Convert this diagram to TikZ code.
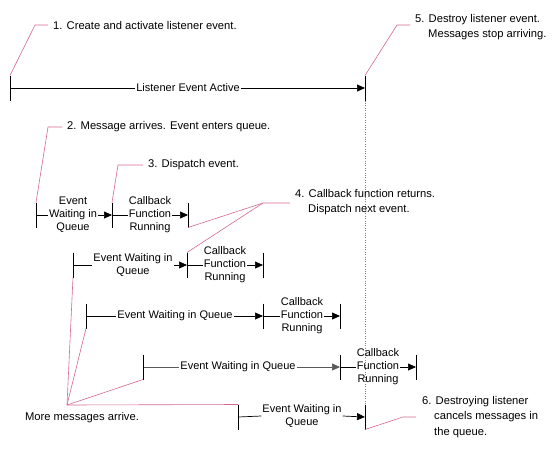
\documentclass[tikz,border=0pt]{standalone}
\usepackage{xcolor}
\usepackage{fontspec}
\setmainfont{Liberation Sans}
\usepackage{tikz}
\usetikzlibrary{arrows.meta, positioning, calc}

\definecolor{calloutpink}{RGB}{214,104,142}
\tikzset{
    lbl/.style={font=\fontsize{11}{13}\selectfont, inner sep=1pt, align=center},
    note/.style={font=\fontsize{11.2}{15.5}\selectfont, inner sep=0pt, align=left},
    tickln/.style={draw, line width=0.9pt},
    flow/.style={-{Triangle[length=8pt,width=7pt]}, line width=0.7pt},
    callout/.style={draw=calloutpink, line width=0.6pt},
}
\newcommand{\tickmark}[1]{\draw[tickln] ([yshift=12.5pt]#1) -- ([yshift=-12.5pt]#1);}

\begin{document}
\begin{tikzpicture}[x=1pt, y=-1pt]
    \useasboundingbox (0,0) rectangle (557,451);

    % listener event
    \coordinate (la) at (10,88); \coordinate (lb) at (365,88);
    \tickmark{la} \tickmark{lb}
    \node[lbl] (lea) at (188,88) {Listener Event Active};
    \draw[line width=0.7pt] (la) -- (lea.west);
    \draw[flow] (lea.east) -- (lb);
    \coordinate (t52) at (365,417);
    \draw[dotted, gray] ([yshift=-12.5pt]lb) -- ([yshift=12.5pt]t52);

    % row 1
    \coordinate (t11) at (36,215); \coordinate (t12) at (112,215); \coordinate (t13) at (188,215);
    \node[lbl] (ew1) at (73,215) {Event\\Waiting in\\Queue};
    \node[lbl] (cb1) at (150,215) {Callback\\Function\\Running};
    \draw[line width=0.7pt] (t11) -- (ew1.west); \draw[flow] (ew1.east) -- (t12);
    \draw[line width=0.7pt] (t12) -- (cb1.west); \draw[flow] (cb1.east) -- (t13);
    \tickmark{t11} \tickmark{t12} \tickmark{t13}

    % row 2
    \coordinate (t21) at (73,265); \coordinate (t22) at (187,265); \coordinate (t23) at (263,265);
    \node[lbl] (ew2) at (133,265) {Event Waiting in\\Queue};
    \node[lbl] (cb2) at (225,265) {Callback\\Function\\Running};
    \draw[line width=0.7pt] (t21) -- (ew2.west); \draw[flow] (ew2.east) -- (t22);
    \draw[line width=0.7pt] (t22) -- (cb2.west); \draw[flow] (cb2.east) -- (t23);
    \tickmark{t21} \tickmark{t22} \tickmark{t23}

    % row 3
    \coordinate (t31) at (86,316); \coordinate (t32) at (263,316); \coordinate (t33) at (340,316);
    \node[lbl] (ew3) at (175,316) {Event Waiting in Queue};
    \node[lbl] (cb3) at (302,316) {Callback\\Function\\Running};
    \draw[line width=0.7pt] (t31) -- (ew3.west); \draw[flow] (ew3.east) -- (t32);
    \draw[line width=0.7pt] (t32) -- (cb3.west); \draw[flow] (cb3.east) -- (t33);
    \tickmark{t31} \tickmark{t32} \tickmark{t33}

    % row 4
    \coordinate (t41) at (143,367); \coordinate (t42) at (340,367); \coordinate (t43) at (416,367);
    \node[lbl] (ew4) at (238,367) {Event Waiting in Queue};
    \node[lbl] (cb4) at (378,367) {Callback\\Function\\Running};
    \draw[line width=0.7pt, black!65] (t41) -- (ew4.west); \draw[flow, black!65] (ew4.east) -- (t42);
    \draw[line width=0.7pt] (t42) -- (cb4.west); \draw[flow] (cb4.east) -- (t43);
    \tickmark{t41} \tickmark{t42} \tickmark{t43}

    % row 5
    \coordinate (t51) at (238,417);
    \node[lbl] (ew5) at (302,416) {Event Waiting in\\Queue};
    \draw[line width=0.7pt] (t51) -- (ew5.west); \draw[flow] (ew5.east) -- (t52);
    \tickmark{t51} \tickmark{t52}

    % callouts
    \node[note, anchor=west] (n1) at (53,25) {1. Create and activate listener event.};
    \draw[callout] ([yshift=12.5pt]la) -- (35,25) -- ([xshift=-5pt]n1.west);
    \node[note, anchor=north west] (n5) at (415,14) {5. Destroy listener event.\\\hspace*{13pt}Messages stop arriving.};
    \draw[callout] ([yshift=12.5pt]lb) -- (397,25) -- (410,25);
    \node[note, anchor=west] (n2) at (67,127) {2. Message arrives. Event enters queue.};
    \draw[callout] ([yshift=12.5pt]t11) -- (48,127) -- ([xshift=-5pt]n2.west);
    \node[note, anchor=west] (n3) at (148,165) {3. Dispatch event.};
    \draw[callout] ([yshift=12.5pt]t12) -- (118,165) -- ([xshift=-5pt]n3.west);
    \node[note, anchor=north west] (n4) at (295,189) {4. Callback function returns.\\\hspace*{13pt}Dispatch next event.};
    \coordinate (j4) at (263,203);
    \draw[callout] ([yshift=-12.5pt]t13) -- (j4) -- (290,203);
    \draw[callout] ([yshift=12.5pt]t22) -- (j4);
    \node[note, anchor=west] (n6) at (422,417) {6. Destroying listener\\\hspace*{12pt}cancels messages in\\\hspace*{12pt}the queue.};
    \draw[callout] ([yshift=-12.5pt]t52) -- (403,417) -- ([xshift=-6pt]n6.west);
    \coordinate (jm) at (67,405);
    \node[note] (nm) at (82,418) {More messages arrive.};
    \draw[callout] (jm) -- ([yshift=-12.5pt]t21);
    \draw[callout] (jm) -- ([yshift=-12.5pt]t31);
    \draw[callout] (jm) -- ([yshift=-12.5pt]t41);
    \draw[callout] (jm) -- ([yshift=12.5pt]t51);
\end{tikzpicture}
\end{document}
